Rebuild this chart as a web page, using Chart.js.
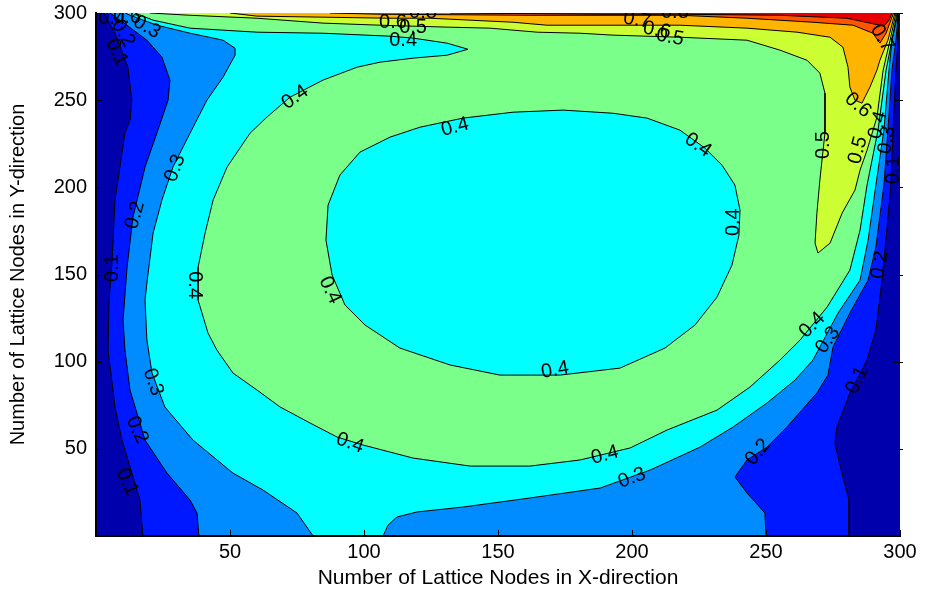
<!DOCTYPE html>
<html>
<head>
<meta charset="utf-8">
<title>Contour</title>
<script src="https://cdn.jsdelivr.net/npm/chart.js@4.4.1/dist/chart.umd.min.js"></script>
<style>
  html, body { margin: 0; padding: 0; background: #fff; }
  canvas { display: block; }
</style>
</head>
<body>
<canvas id="contourChart" width="926" height="596"></canvas>
<script>
// tick labels
const xTicks = [50, 100, 150, 200, 250, 300];
const yTicks = [50, 100, 150, 200, 250, 300];

// contour regions (value above the level) in lattice nodes
const levelBase = [[0, 0], [300, 0], [300, 300], [0, 300]];
const level01 = [[17.5, 0], [16.4, 20.6], [13.4, 36.1], [9.7, 55], [7.1, 74], [4.5, 106.7], [4.9, 135.3], [6, 158.3], [7.1, 192.7], [10.8, 231.1], [12.7, 238.5], [13.4, 250], [11.9, 268.9], [7.1, 288.4], [3, 300],
  [299.6, 300], [299.3, 284.4], [298.5, 267.2], [297.4, 232.8], [296.6, 201.3], [295.1, 175.5], [293.3, 146.8], [291, 118.1], [287.7, 100.9], [281.3, 82], [276.5, 62.5], [275.7, 53.3], [278.7, 33.8], [281, 20.6], [281, 0]];
const level02 = [[38.4, 0], [37.7, 13.2], [35.1, 20.6], [26.5, 36.1], [18.3, 55], [12.7, 83.7], [10.8, 106.7], [10.1, 123.9], [11.6, 154.2], [13.8, 182.9], [18.3, 211.6], [23.1, 232.8], [26.9, 250], [27.6, 261.5], [24.6, 274.7], [19, 284.4], [9, 295.9], [5.2, 300],
  [299.4, 300], [298.5, 284.4], [297, 267.2], [295.5, 232.8], [294, 201.3], [291, 165.7], [288.1, 146.8], [281.3, 127.9], [275, 108.4], [273.1, 92.3], [269, 82], [257.8, 62.5], [250.4, 51], [242.9, 43.6], [238.4, 33.8], [242.9, 24.7], [249.6, 13.2], [250, 0]];
const level03 = [[81, 0], [75, 13.2], [62.3, 26.4], [51.1, 36.1], [36.2, 55], [25.7, 74], [20.9, 93.5], [19, 112.4], [18.3, 135.3], [19, 145.1], [21.3, 173.7], [24.6, 192.7], [28.7, 211.6], [35.1, 231.1], [41.4, 250], [47.4, 263.2], [51.9, 275.8], [51.9, 279.8], [47.4, 284.4], [35.1, 288.4], [22.8, 293], [12.7, 298.7], [11, 300],
  [299.3, 300], [297, 284.4], [295.9, 267.2], [294, 232.8], [291, 201.3], [288.1, 169.7], [285.1, 146.8], [276.9, 127.9], [270.1, 108.4], [267.5, 100.9], [260.8, 89.4], [250.4, 76.3], [237.7, 62.5], [225.4, 51], [206.7, 37.8], [188.1, 27.5], [161.9, 21.8], [136.9, 16.6], [119.8, 13.8], [112.3, 10.9], [109, 6.3], [107.1, 0]];
const level04 = [[14.6, 300], [21.3, 295.9], [35.1, 291.3], [60.1, 289], [84.7, 288.4], [109.7, 286.7], [118.3, 285.6], [131, 282.7], [138.8, 279.2], [131, 275.8], [118.3, 274.1], [106, 271.8], [97.4, 268.9], [84.7, 261.5], [72.4, 251.7], [63.8, 240.3], [57.5, 231.1], [48.9, 211.6], [43.7, 192.7], [40.7, 173.7], [38.1, 154.2], [38.1, 135.3], [41.8, 116.4], [45.1, 106.7], [51.1, 93.5], [60.1, 83.7], [68.7, 74], [79.9, 64.8], [89.9, 56.8], [99.6, 52.2], [118.3, 44.7], [139.6, 40.1], [161.9, 40.1], [180.6, 43.6], [199.3, 50.5], [213.1, 60.8], [231.7, 72.2], [244, 85.4], [255.2, 100.9], [262.7, 112.4], [272.8, 131.3], [281.3, 152.5], [285.1, 175.5], [287.7, 201.3], [291.8, 232.8], [294.8, 267.2], [297, 284.4], [298.9, 300]];
const hole04 = [[136.9, 239.7], [155.6, 243.1], [174.3, 244.3], [192.9, 242.5], [205.6, 239.7], [217.9, 232.8], [227.2, 222.5], [233.6, 212.7], [238.4, 201.3], [240.3, 186.9], [239.9, 172.6], [237.3, 155.4], [231.7, 137], [223.5, 121], [212.3, 107.8], [195.5, 96.3], [173.1, 92.3], [150.7, 92.3], [132.1, 98.1], [113.4, 107.8], [100.4, 121], [92.9, 132.5], [88.1, 149.7], [85.8, 169.7], [86.6, 189.8], [91, 207], [98.5, 220.2], [109.7, 228.8], [120.9, 234.5], [136.9, 239.7]];
const level05 = [[20.1, 300], [35.1, 298.7], [60.1, 297], [84.7, 294.2], [106, 293], [131, 291.9], [147, 291.3], [164.6, 289], [180.6, 288.4], [192.9, 287.3], [217.9, 286.1], [242.9, 284.4], [255.2, 278.7], [265.3, 272.9], [270.1, 265.5], [272, 254], [272, 231.1], [270.9, 215.6], [270.1, 204.1], [269, 185.2], [268.3, 168], [269.4, 162.3], [273.9, 168], [278.4, 185.2], [283.2, 198.4], [285.1, 209.9], [287.7, 221.3], [291.4, 240.3], [293.7, 267.2], [296.3, 284.4], [298.5, 300]];
const level06 = [[50, 300], [60.1, 298.2], [109.7, 297], [124.6, 297], [155.6, 294.7], [168.3, 293], [192.9, 293], [217.9, 293], [242.9, 291.3], [261.6, 289], [273.9, 286.1], [278.7, 280.4], [280.6, 268.9], [281.3, 257.5], [283.2, 250], [285.8, 248.3], [288.8, 257.5], [291.4, 267.2], [292.5, 272.9], [295.5, 284.4], [298.1, 300]];
const level07 = [[87.3, 300], [106, 299.3], [161.9, 298.7], [217.9, 298.7], [242.9, 297], [267.5, 294.7], [282.5, 293], [289.9, 288.4], [292.5, 282.7], [294.8, 288.4], [296.6, 295.9], [297.6, 300]];
const level08 = [[132.1, 300], [188.1, 299.3], [217.9, 299.3], [255.2, 298.7], [280.2, 297], [292.5, 293], [294, 292.4], [295.9, 295.9], [297, 300]];

const layers = [levelBase, level01, level02, level03, level04, hole04, level05, level06, level07, level08];
const layerColors = ['#0000AD', '#0018FF', '#008CFF', '#00FFFF', '#7AFF8A', '#00FFFF', '#CCFF33', '#FFB400', '#FF5500', '#E60000'];

// inline contour labels: [text, x, y, angle]
const contourLabels = [
  ['0.1', 6, 153.7, -90], ['0.2', 14.6, 184, -75], ['0.3', 29.5, 211, -70], ['0.4', 36.9, 143.9, 90],
  ['0.4', 74.3, 251.7, -35], ['0.4', 134, 234.5, -15], ['0.4', 224.6, 224.2, 35], ['0.4', 237.7, 180, -90],
  ['0.4', 87.3, 141, 65], ['0.4', 171.3, 95.2, -10], ['0.4', 94.8, 53.3, 20], ['0.3', 21.3, 88.3, 70],
  ['0.2', 15.3, 60.8, 65], ['0.1', 11.6, 31, 65], ['0.4', 189.9, 46.4, -15], ['0.3', 200, 33.3, -20],
  ['0.2', 247, 48.2, -50], ['0.1', 284, 89.4, -65], ['0.4', 267.2, 121, -45], ['0.3', 273.1, 112.4, -55],
  ['0.2', 292.5, 155.4, -80], ['0.1', 297.4, 209.9, -90], ['0.5', 271.3, 224.2, -90], ['0.5', 284.3, 221.3, -75],
  ['0.4', 291.8, 235.7, -75], ['0.3', 295.1, 227.1, -80], ['0.6', 284.3, 247.1, 40], ['0.7', 293.3, 285.6, 60],
  ['0.6', 110.8, 294.7, 0], ['0.5', 118.3, 291.9, 0], ['0.4', 114.6, 284.4, 0], ['0.8', 122, 300.5, 0],
  ['0.7', 201.9, 295.9, 10], ['0.6', 209.3, 290.1, 10], ['0.5', 214.2, 286.1, 10], ['0.8', 216, 300.5, 0],
  ['0.4', 6, 297, 0], ['0.6', 11.6, 297.6, 0], ['0.3', 19, 291.9, 30], ['0.2', 10.1, 288.4, 60], ['0.1', 7.8, 277.5, 65]
];

const FONT = '"Liberation Sans", Arial, sans-serif';

function onEdge(a, b) {
  const e = 0.05;
  return (a.x <= e && b.x <= e) || (a.x >= 300 - e && b.x >= 300 - e) ||
         (a.y <= e && b.y <= e) || (a.y >= 300 - e && b.y >= 300 - e);
}

// filled bands, lowest level painted first
const fills = layers.map((pts, i) => ({
  data: pts.map(p => ({ x: p[0], y: p[1] })),
  showLine: true,
  fill: 'shape',
  backgroundColor: layerColors[i],
  borderWidth: 0,
  pointRadius: 0,
  pointHoverRadius: 0,
  tension: 0,
  order: 100 + layers.length - i
}));

// contour lines on top, skipping the parts that run along the frame
const lines = layers.slice(1).map(pts => ({
  data: pts.map(p => ({ x: p[0], y: p[1] })),
  showLine: true,
  fill: false,
  borderColor: '#000',
  borderWidth: 1,
  pointRadius: 0,
  pointHoverRadius: 0,
  tension: 0,
  order: 1,
  segment: {
    borderColor: ctx => onEdge(ctx.p0.parsed, ctx.p1.parsed) ? 'rgba(0,0,0,0)' : '#000'
  }
}));

const overlay = {
  id: 'overlay',
  afterDatasetsDraw(chart) {
    const { ctx, chartArea: a, scales: { x, y } } = chart;
    ctx.save();
    ctx.beginPath();
    ctx.rect(a.left, a.top, a.right - a.left, a.bottom - a.top);
    ctx.clip();
    ctx.fillStyle = '#000';
    ctx.font = '20px ' + FONT;
    ctx.textAlign = 'center';
    ctx.textBaseline = 'middle';
    contourLabels.forEach(([t, vx, vy, ang]) => {
      ctx.save();
      ctx.translate(x.getPixelForValue(vx), y.getPixelForValue(vy));
      ctx.rotate(ang * Math.PI / 180);
      ctx.fillText(t, 0, 0);
      ctx.restore();
    });
    ctx.restore();

    // inward tick marks
    ctx.save();
    ctx.strokeStyle = '#000';
    ctx.lineWidth = 1;
    ctx.beginPath();
    xTicks.forEach(v => {
      const px = Math.round(x.getPixelForValue(v)) + 0.5;
      ctx.moveTo(px, a.bottom);
      ctx.lineTo(px, a.bottom - 6);
    });
    yTicks.forEach(v => {
      const py = Math.round(y.getPixelForValue(v)) + 0.5;
      ctx.moveTo(a.left, py);
      ctx.lineTo(a.left + 6, py);
      ctx.moveTo(a.right - 6, py);
      ctx.lineTo(a.right + 3, py);
    });
    ctx.stroke();
    ctx.restore();
  }
};

new Chart(document.getElementById('contourChart'), {
  type: 'scatter',
  data: { datasets: fills.concat(lines) },
  plugins: [overlay],
  options: {
    responsive: false,
    animation: false,
    events: [],
    layout: { padding: { top: 13, right: 26, left: 0, bottom: 0 } },
    plugins: { legend: { display: false }, tooltip: { enabled: false } },
    scales: {
      x: {
        type: 'linear', min: 0, max: 300,
        afterBuildTicks: s => { s.ticks = xTicks.map(v => ({ value: v })); },
        afterFit: s => { s.height = 60; s.paddingLeft = 0; s.paddingRight = 0; },
        grid: { display: false, drawTicks: false },
        border: { display: true, color: '#000', width: 2, z: 1 },
        ticks: { color: '#000', padding: 4, font: { family: FONT, size: 20 }, maxRotation: 0 },
        title: {
          display: true, text: 'Number of Lattice Nodes in X-direction', color: '#000',
          font: { family: FONT, size: 21 }, padding: { top: 0, bottom: 5 }
        }
      },
      y: {
        type: 'linear', min: 0, max: 300,
        afterBuildTicks: s => { s.ticks = yTicks.map(v => ({ value: v })); },
        afterFit: s => { s.width = 96; s.paddingTop = 0; s.paddingBottom = 0; },
        grid: { display: false, drawTicks: false },
        border: { display: true, color: '#000', width: 2, z: 1 },
        ticks: { color: '#000', padding: 9, font: { family: FONT, size: 20 } },
        title: {
          display: true, text: 'Number of Lattice Nodes in Y-direction', color: '#000',
          font: { family: FONT, size: 20 }, padding: { top: 6, bottom: 0 }
        }
      }
    }
  }
});
</script>
</body>
</html>
